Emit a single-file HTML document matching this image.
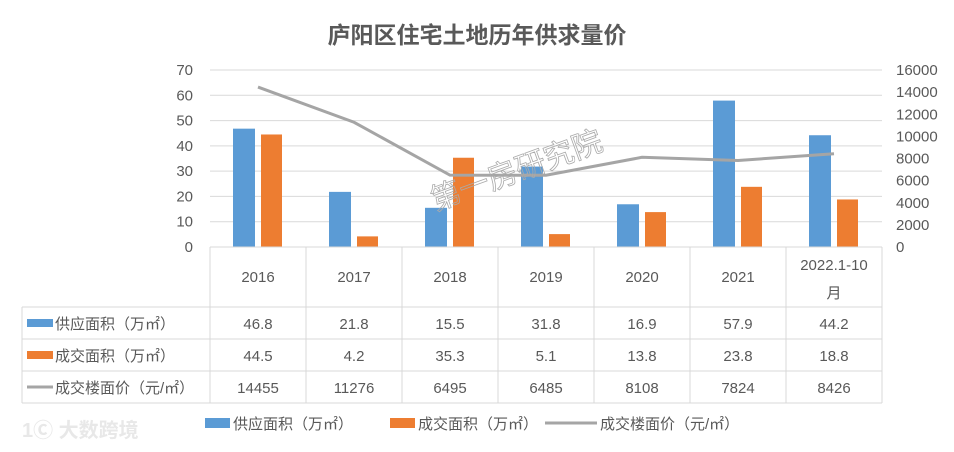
<!DOCTYPE html>
<html><head><meta charset="utf-8">
<style>
body{margin:0;background:#fff;font-family:"Liberation Sans","Noto Sans CJK SC",sans-serif;}
svg text{font-family:"Liberation Sans","Noto Sans CJK SC",sans-serif;fill:#595959;}
</style></head>
<body>
<svg id="c" width="954" height="447" xmlns="http://www.w3.org/2000/svg">
<text x="477" y="43" text-anchor="middle" font-size="23" font-weight="bold">庐阳区住宅土地历年供求量价</text>
<g id="grid"></g><g id="marks"></g><g id="table"></g>
<text x="520" y="180" text-anchor="middle" font-size="30" transform="rotate(-20 520 180)" style="fill:none;stroke:#aaa;stroke-width:0.8">第一房研究院</text>
<text x="22" y="437" font-size="20" font-weight="bold" style="fill:#e8e8e8">1Ⓒ 大数跨境</text>
</svg>
<script>
const categories=["2016","2017","2018","2019","2020","2021","2022.1-10月"];
const supply=[46.8,21.8,15.5,31.8,16.9,57.9,44.2];
const deal=[44.5,4.2,35.3,5.1,13.8,23.8,18.8];
const price=[14455,11276,6495,6485,8108,7824,8426];
const leftTicks=[0,10,20,30,40,50,60,70];
const rightTicks=[0,2000,4000,6000,8000,10000,12000,14000,16000];
const ns="http://www.w3.org/2000/svg";
const X0=210,CW=96,Y0=247,Y1=70;
const yL=v=>Y0-(v/70)*(Y0-Y1), yR=v=>Y0-(v/16000)*(Y0-Y1), xc=i=>X0+CW*i+CW/2;
function mk(p,t,a){const e=document.createElementNS(ns,t);for(const k in a)e.setAttribute(k,a[k]);p.appendChild(e);return e;}
const grid=document.getElementById('grid'),marks=document.getElementById('marks'),tb=document.getElementById('table');
leftTicks.forEach(v=>{const l=mk(grid,'line',{x1:X0,x2:882,y1:yL(v),y2:yL(v),stroke:'#d9d9d9'});


const t=mk(grid,'text',{x:193,y:yL(v)+5,'text-anchor':'end','font-size':15});t.textContent=v;

});
rightTicks.forEach(v=>{const t=mk(grid,'text',{x:896,y:yR(v)+5,'font-size':15});t.textContent=v;

});
categories.forEach((c,i)=>{
const b=mk(marks,'rect',{x:xc(i)-25,y:yL(supply[i]),width:22,height:Y0-yL(supply[i]),fill:'#5b9bd5'});


const o=mk(marks,'rect',{x:xc(i)+3,y:yL(deal[i]),width:21,height:Y0-yL(deal[i]),fill:'#ed7d31'});

});
const ln=mk(marks,'polyline',{points:price.map((v,i)=>xc(i)+','+yR(v)).join(' '),fill:'none',stroke:'#a5a5a5','stroke-width':3});


const rows=[247,307,339,371,403];
const L=(x1,y1,x2,y2)=>mk(tb,'line',{x1,y1,x2,y2,stroke:'#d9d9d9'});
L(X0,247,X0,403);
for(let i=1;i<=7;i++)L(X0+CW*i,247,X0+CW*i,403);
L(22,307,22,403);L(22,307,882,307);L(22,339,882,339);L(22,371,882,371);L(22,403,882,403);L(X0,247,882,247);
categories.forEach((c,i)=>{
if(c.length>5){const a=mk(tb,'text',{x:xc(i),y:270,'text-anchor':'middle','font-size':15});a.textContent='2022.1-10';


const b=mk(tb,'text',{x:xc(i),y:298,'text-anchor':'middle','font-size':15});b.textContent='月';

}
else{const a=mk(tb,'text',{x:xc(i),y:282,'text-anchor':'middle','font-size':15});a.textContent=c;

}
[supply,deal,price].forEach((s,r)=>{const t=mk(tb,'text',{x:xc(i),y:rows[r+1]+22,'text-anchor':'middle','font-size':15});t.textContent=s[i];

});});
const names=["供应面积（万㎡）","成交面积（万㎡）","成交楼面价（元/㎡）"],cols=['#5b9bd5','#ed7d31','#a5a5a5'];
names.forEach((n,r)=>{const y=rows[r+1]+16;
if(r<2){const s=mk(tb,'rect',{x:27,y:y-4,width:26,height:8,fill:cols[r]});}
else{const s=mk(tb,'line',{x1:27,x2:53,y1:y,y2:y,stroke:cols[r],'stroke-width':3});}
const t=mk(tb,'text',{x:55,y:y+6,'font-size':15});t.textContent=n;

});
const lx=[205,390,545];
names.forEach((n,r)=>{const y=423;
if(r<2){const s=mk(tb,'rect',{x:lx[r],y:y-5,width:25,height:10,fill:cols[r]});}
else{const s=mk(tb,'line',{x1:lx[r],x2:lx[r]+52,y1:y,y2:y,stroke:cols[r],'stroke-width':3});}
const t=mk(tb,'text',{x:lx[r]+(r<2?28:55),y:y+6,'font-size':15});t.textContent=n;

});
</script>
</body></html>
